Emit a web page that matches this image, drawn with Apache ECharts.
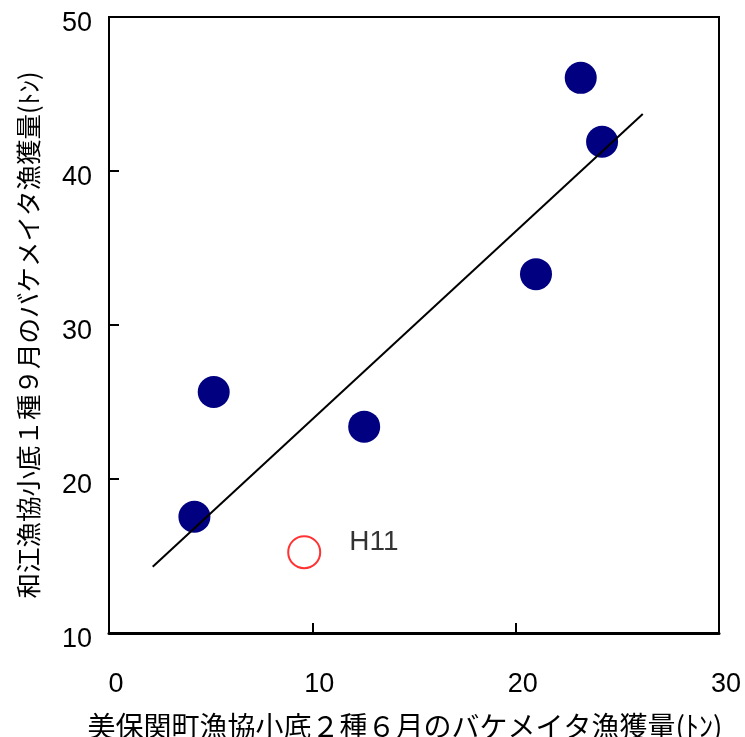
<!DOCTYPE html>
<html>
<head>
<meta charset="utf-8">
<script src="https://cdn.jsdelivr.net/npm/echarts@6/dist/echarts.min.js"></script>
<style>
html,body{margin:0;padding:0;background:#fff;}
#c{width:745px;height:737px;}
</style>
</head>
<body>
<div id="c"></div>
<script>
// Data
var mainX = [4.2, 5.15, 12.55, 21.0, 23.2, 24.25];
var mainY = [17.55, 25.65, 23.4, 33.3, 46.05, 41.9];
var h11X = [9.6];
var h11Y = [15.25];
var h11Labels = ['H11'];
var trendX = [2.15, 26.25];
var trendY = [14.3, 43.7];
var xTicks = [0, 10, 20, 30];
var yTicks = [10, 20, 30, 40, 50];
var xTitle = '美保関町漁協小底２種６月のバケメイタ漁獲量(ﾄﾝ)';
var yTitle = '和江漁協小底１種９月のバケメイタ漁獲量(ﾄﾝ)';

function pairs(xs, ys){ return xs.map(function(x,i){ return [x, ys[i]]; }); }

var chart = echarts.init(document.getElementById('c'));
var font = '"Liberation Sans", Arial, "Noto Sans CJK JP", sans-serif';
var cjk = '"Noto Sans CJK JP", sans-serif';
chart.setOption({
  backgroundColor: '#fff',
  animation: false,
  grid: {left: 109, top: 17, right: 26, bottom: 104, containLabel: false, outerBoundsMode: 'none',
    show: true, borderColor: '#000', borderWidth: 2, backgroundColor: 'transparent'},
  xAxis: {
    type: 'value', min: xTicks[0], max: xTicks[xTicks.length-1], interval: 10,
    axisLine: {show: true, lineStyle: {color: '#000', width: 3}},
    axisTick: {show: true, inside: true, length: 10, lineStyle: {color: '#000', width: 2}},
    splitLine: {show: false},
    axisLabel: {color: '#000', fontSize: 27, fontFamily: font, margin: 38,
      formatter: '{a|{value}}', rich: {a: {color: '#000', fontSize: 27, fontFamily: font, padding: [0,0,0,14]}}},
    name: xTitle, nameLocation: 'middle', nameGap: 79,
    nameTextStyle: {color: '#000', fontSize: 28, fontFamily: cjk, padding: [0,18,0,0]}
  },
  yAxis: {
    type: 'value', min: yTicks[0], max: yTicks[yTicks.length-1], interval: 10,
    axisLine: {show: true, lineStyle: {color: '#000', width: 2}},
    axisTick: {show: true, inside: true, length: 10, lineStyle: {color: '#000', width: 2}},
    splitLine: {show: false},
    axisLabel: {color: '#000', fontSize: 27, fontFamily: font, margin: 17,
      formatter: function(v){ return '{s|}\n{a|' + v + '}'; },
      rich: {s: {fontSize: 1, lineHeight: 14}, a: {color: '#000', fontSize: 27, lineHeight: 27, fontFamily: font}}},
    name: yTitle, nameLocation: 'middle', nameGap: 68,
    nameTextStyle: {color: '#000', fontSize: 25.5, fontFamily: cjk, padding: [0,20,0,0]}
  },
  series: [
    {
      type: 'line', data: pairs(trendX, trendY), showSymbol: false, symbol: 'none',
      lineStyle: {color: '#000', width: 2}, z: 3
    },
    {
      type: 'scatter', data: pairs(mainX, mainY), symbol: 'circle', symbolSize: 32,
      itemStyle: {color: '#000080', opacity: 1}, z: 2
    },
    {
      type: 'scatter', data: pairs(h11X, h11Y), symbol: 'circle', symbolSize: 32,
      itemStyle: {color: '#fff', borderColor: '#ff0000', borderWidth: 2},
      label: {show: true, position: 'right', distance: 28, offset: [0,-10],
        formatter: function(p){ return h11Labels[p.dataIndex]; },
        color: '#000', fontSize: 28, fontFamily: font}
    }
  ]
});
</script>
</body>
</html>
